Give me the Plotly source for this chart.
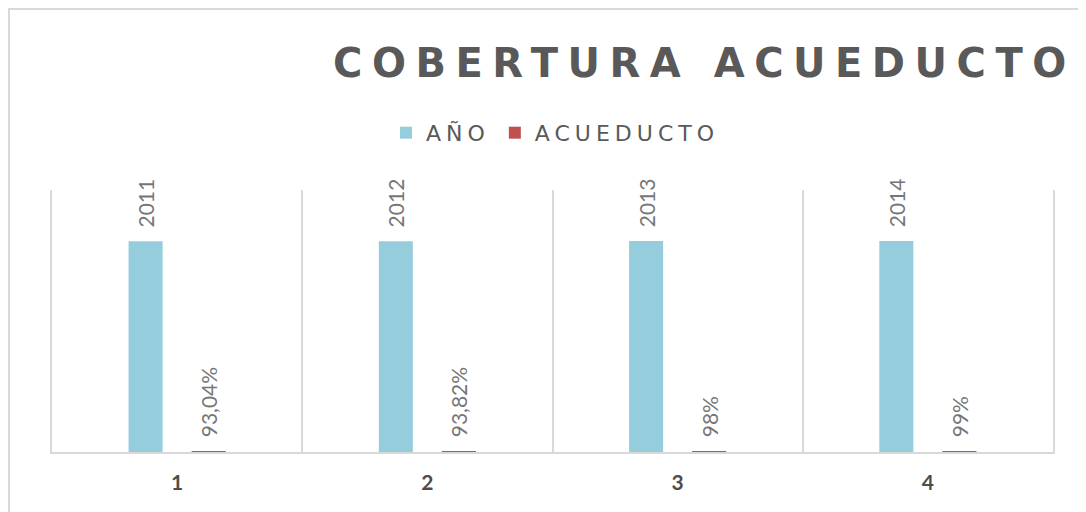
import plotly.graph_objects as go

categories = ["1", "2", "3", "4"]
anio = [2011, 2012, 2013, 2014]
acueducto = [0.9304, 0.9382, 0.98, 0.99]
series_names = ["AÑO", "ACUEDUCTO"]
title_text = "COBERTURA ACUEDUCTO"


def pct_label(v):
    s = f"{v * 100:.2f}".rstrip("0").rstrip(".")
    return s.replace(".", ",") + "%"


LABEL_FONT = dict(family="Lato", size=21, color="#767676")
PAD = "\u00a0\u00a0"

fig = go.Figure()
fig.add_trace(go.Bar(
    x=categories, y=anio,
    name=f'<span style="letter-spacing:5px">{series_names[0]}</span>',
    marker=dict(color="#96CDDC", line=dict(width=0)),
    text=[str(v) for v in anio], texttemplate=PAD + "%{text}",
    textposition="outside", textangle=-90,
    textfont=LABEL_FONT, cliponaxis=False, constraintext="none",
))
fig.add_trace(go.Bar(
    x=categories, y=acueducto,
    name=f'<span style="letter-spacing:5px">{series_names[1]}</span>',
    marker=dict(color="#C0504D", line=dict(width=0)),
    text=[pct_label(v) for v in acueducto], texttemplate=PAD + "%{text}",
    textposition="outside", textangle=-90,
    textfont=LABEL_FONT, cliponaxis=False, constraintext="none",
))

fig.update_layout(
    width=1078, height=504,
    margin=dict(l=44, r=33, t=182, b=60),
    paper_bgcolor="white", plot_bgcolor="white",
    barmode="group", bargap=0.496, bargroupgap=0.46,
    showlegend=True,
    legend=dict(
        orientation="h", x=0.503, xanchor="center", y=1.218, yanchor="middle",
        font=dict(family="DejaVu Sans", size=22, color="#595959"),
        itemwidth=30, traceorder="normal",
    ),
    title=dict(
        text=f'<span style="letter-spacing:9.5px">{title_text}</span>',
        x=0.646, xanchor="center", y=0.890, yanchor="middle",
        font=dict(family="DejaVu Sans", size=40, color="#595959", weight="bold"),
    ),
    xaxis=dict(
        type="category", tickson="boundaries", showgrid=True,
        gridcolor="#d9d9d9", gridwidth=2, ticks="", showline=True,
        linecolor="#d9d9d9", linewidth=2, ticklabelstandoff=11,
        tickfont=dict(family="Lato", size=21, color="#4d4d4d", weight="bold"),
        zeroline=False,
    ),
    yaxis=dict(
        range=[0, 2500], showgrid=False, showticklabels=False, ticks="",
        showline=True, mirror=True, linecolor="#d9d9d9", linewidth=2,
        zeroline=False,
    ),
    shapes=[
        dict(type="rect", xref="paper", yref="paper",
             x0=-0.043, x1=1.2, y0=-0.5, y1=1.691,
             line=dict(color="#d9d9d9", width=2), fillcolor="rgba(0,0,0,0)",
             layer="below"),
    ],
)

fig.write_html("out.html")
